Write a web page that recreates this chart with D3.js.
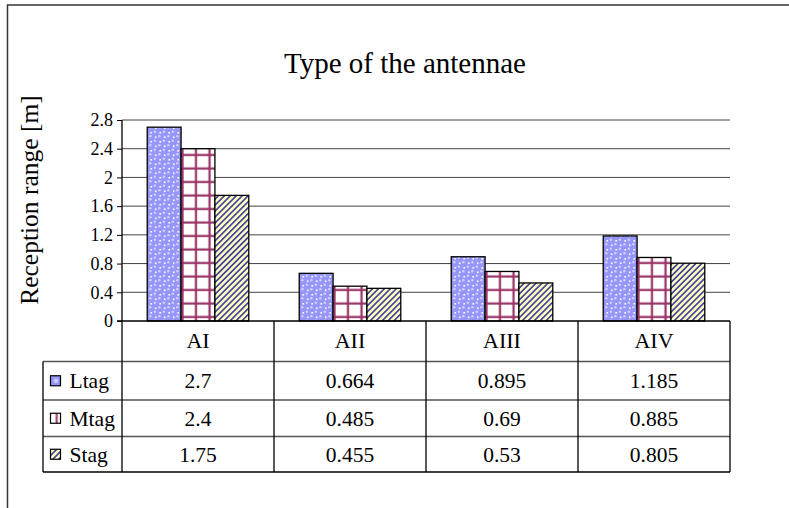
<!DOCTYPE html>
<html>
<head>
<meta charset="utf-8">
<script src="https://cdn.jsdelivr.net/npm/d3@7"></script>
<style>
  html, body { margin: 0; padding: 0; background: #fff; }
  svg { display: block; }
  text { font-family: "Liberation Serif", "Times New Roman", serif; fill: #000; }
</style>
</head>
<body>
<div id="chart"></div>
<script>
// ── data ──────────────────────────────────────────────
const categories  = ['AI', 'AII', 'AIII', 'AIV'];
const seriesNames = ['Ltag', 'Mtag', 'Stag'];
const ltag = [2.7, 0.664, 0.895, 1.185];
const mtag = [2.4, 0.485, 0.69, 0.885];
const stag = [1.75, 0.455, 0.53, 0.805];
const yTicks = [0, 0.4, 0.8, 1.2, 1.6, 2, 2.4, 2.8];
const seriesValues = [ltag, mtag, stag];

const W = 789, H = 508;
const svg = d3.select('#chart').append('svg').attr('width', W).attr('height', H);

// ── fill patterns (Excel-style) ──
const defs = svg.append('defs');

const pL = defs.append('pattern').attr('id', 'patL')
  .attr('patternUnits', 'userSpaceOnUse').attr('width', 9).attr('height', 9);
pL.append('rect').attr('width', 9).attr('height', 9).attr('fill', '#ffffff');
[[2.25, 2.25], [6.75, 6.75], [6.75, -2.25], [-2.25, 6.75], [11.25, 6.75], [6.75, 11.25], [2.25, 11.25], [11.25, 2.25]]
  .forEach(([cx, cy]) => {
    pL.append('circle').attr('cx', cx).attr('cy', cy).attr('r', 3.7).attr('fill', '#9595fa');
    pL.append('circle').attr('cx', cx - 0.9).attr('cy', cy - 1).attr('r', 1.2).attr('fill', '#d0d0ff');
  });

const pM = defs.append('pattern').attr('id', 'patM')
  .attr('patternUnits', 'userSpaceOnUse').attr('width', 13.5).attr('height', 13.5);
pM.append('rect').attr('width', 13.5).attr('height', 13.5).attr('fill', '#ffffff');
pM.append('line').attr('x1', 6.5).attr('x2', 6.5).attr('y1', 0).attr('y2', 13.5)
  .attr('stroke', '#993366').attr('stroke-width', 2.2);
pM.append('line').attr('y1', 6.5).attr('y2', 6.5).attr('x1', 0).attr('x2', 13.5)
  .attr('stroke', '#993366').attr('stroke-width', 2.2);

const pS = defs.append('pattern').attr('id', 'patS')
  .attr('patternUnits', 'userSpaceOnUse').attr('width', 4.2).attr('height', 4.2)
  .attr('patternTransform', 'rotate(45)');
pS.append('rect').attr('width', 4.2).attr('height', 4.2).attr('fill', '#ffffc4');
pS.append('rect').attr('width', 1.7).attr('height', 4.2).attr('fill', '#45459a');

// legend-key versions (scaled to the little square)
const kL = defs.append('pattern').attr('id', 'keyL')
  .attr('patternContentUnits', 'objectBoundingBox').attr('width', 1).attr('height', 1);
kL.append('rect').attr('width', 1).attr('height', 1).attr('fill', '#9595fa');
kL.append('circle').attr('cx', 0.55).attr('cy', 0.5).attr('r', 0.22).attr('fill', '#d0d0ff');
const kM = defs.append('pattern').attr('id', 'keyM')
  .attr('patternContentUnits', 'objectBoundingBox').attr('width', 1).attr('height', 1);
kM.append('rect').attr('width', 1).attr('height', 1).attr('fill', '#ffffff');
kM.append('rect').attr('x', 0.52).attr('width', 0.2).attr('height', 1).attr('fill', '#993366');

const fills = ['url(#patL)', 'url(#patM)', 'url(#patS)'];
const keyFills = ['url(#keyL)', 'url(#keyM)', 'url(#patS)'];

// ── outer frame ──
svg.append('rect').attr('x', 7.5).attr('y', 5).attr('width', W + 20).attr('height', H + 20)
  .attr('fill', 'none').attr('stroke', '#333').attr('stroke-width', 1.5);

// ── layout ──
const plotL = 122, plotR = 730;
const x = d3.scaleBand().domain(categories).range([plotL, plotR]);
const bw = x.bandwidth();
const xs = d3.scaleBand().domain(seriesNames).range([bw * 0.166, bw * 0.834]);
const y = d3.scaleLinear().domain([0, 2.8]).range([321, 120]);

// title
svg.append('text').attr('x', 405).attr('y', 73).attr('text-anchor', 'middle')
  .style('font-size', '29px').text('Type of the antennae');

// y label
svg.append('text').attr('transform', 'translate(38,200) rotate(-90)')
  .attr('text-anchor', 'middle').style('font-size', '25.5px').text('Reception range [m]');

// gridlines
svg.append('g').selectAll('line').data(yTicks.filter(d => d > 0)).enter().append('line')
  .attr('x1', plotL).attr('x2', plotR).attr('y1', d => y(d)).attr('y2', d => y(d))
  .attr('stroke', '#444').attr('stroke-width', 1);

// bars
const groups = svg.append('g').selectAll('g').data(categories).enter().append('g')
  .attr('transform', d => `translate(${x(d)},0)`);
groups.selectAll('rect').data((d, i) => seriesNames.map((s, k) => ({ s, k, v: seriesValues[k][i] })))
  .enter().append('rect')
  .attr('x', d => xs(d.s)).attr('width', xs.bandwidth())
  .attr('y', d => y(d.v)).attr('height', d => y(0) - y(d.v))
  .attr('fill', d => fills[d.k]).attr('stroke', '#000').attr('stroke-width', 1.3);

// y axis
const yAxis = d3.axisLeft(y).tickValues(yTicks).tickSize(5).tickPadding(4).tickFormat(d3.format('~g'));
const ga = svg.append('g').attr('transform', `translate(${plotL},0)`).call(yAxis);
ga.select('.domain').remove();
ga.selectAll('.tick line').attr('stroke', '#000');
ga.selectAll('.tick text').style('font-size', '18px').style('font-family', '"Liberation Serif", serif');

// ── data table ──
const rowY = [321, 361.5, 400, 436.5, 472];
const tableL = 43;
const tbl = svg.append('g');

// horizontal row lines
tbl.selectAll('line.h').data(rowY.slice(1)).enter().append('line')
  .attr('x1', tableL).attr('x2', plotR).attr('y1', d => d).attr('y2', d => d)
  .attr('stroke', (d, i) => i === 3 ? '#000' : '#555').attr('stroke-width', 1.4);
// vertical lines
const colX = categories.map(c => x(c)).concat([plotR]);
tbl.selectAll('line.v').data(colX).enter().append('line')
  .attr('x1', d => d).attr('x2', d => d)
  .attr('y1', (d, i) => i === 0 ? 120 : 321).attr('y2', 472)
  .attr('stroke', '#000').attr('stroke-width', 1.3);
tbl.append('line').attr('x1', tableL).attr('x2', tableL).attr('y1', rowY[1]).attr('y2', rowY[4])
  .attr('stroke', '#000').attr('stroke-width', 1.3);
// zero line
svg.append('line').attr('x1', plotL - 5).attr('x2', plotR).attr('y1', y(0)).attr('y2', y(0))
  .attr('stroke', '#000').attr('stroke-width', 1.6);

// header labels
tbl.selectAll('text.cat').data(categories).enter().append('text')
  .attr('x', d => x(d) + bw / 2).attr('y', 348).attr('text-anchor', 'middle')
  .style('font-size', '22px').text(d => d);

// rows
seriesNames.forEach((s, k) => {
  const top = rowY[k + 1], bot = rowY[k + 2];
  const base = (top + bot) / 2 + 7.5;
  tbl.append('rect').attr('x', 50.5).attr('y', base - 12.5).attr('width', 10).attr('height', 10)
    .attr('fill', keyFills[k]).attr('stroke', '#000').attr('stroke-width', 1.2);
  tbl.append('text').attr('x', 69.5).attr('y', base).style('font-size', '21.5px').text(s);
  tbl.selectAll(null).data(seriesValues[k]).enter().append('text')
    .attr('x', (d, i) => x(categories[i]) + bw / 2).attr('y', base)
    .attr('text-anchor', 'middle').style('font-size', '21.5px').text(d => String(d));
});
</script>
</body>
</html>
